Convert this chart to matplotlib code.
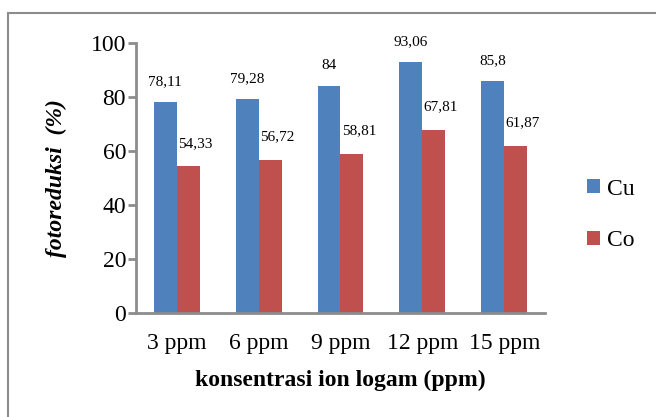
import numpy as np
import matplotlib
matplotlib.use('Agg')
import matplotlib.pyplot as plt
from matplotlib.patches import Rectangle

categories = ['3 ppm', '6 ppm', '9 ppm', '12 ppm', '15 ppm']
cu_values = [78.11, 79.28, 84, 93.06, 85.8]
co_values = [54.33, 56.72, 58.81, 67.81, 61.87]
cu_labels = ['78,11', '79,28', '84', '93,06', '85,8']
co_labels = ['54,33', '56,72', '58,81', '67,81', '61,87']

plt.rcParams['font.family'] = ['Liberation Serif', 'DejaVu Serif']

fig = plt.figure(figsize=(6.56, 4.17), dpi=100)
ax = fig.add_axes([0.207, 0.249, 0.624, 0.648])

# outer chart border
fig.patches.append(Rectangle((8 / 656, -0.1), 1.1, 1 - 13 / 417 + 0.1,
                             transform=fig.transFigure, fill=False,
                             edgecolor='#8c8c8c', linewidth=1.5))

x = np.arange(len(categories))
w = 0.28
ax.bar(x - w / 2, cu_values, w, color='#4F81BD', label='Cu')
ax.bar(x + w / 2, co_values, w, color='#C0504D', label='Co')

for i in range(len(categories)):
    ax.annotate(cu_labels[i], (x[i] - w / 2, cu_values[i]), xytext=(0, 10),
                textcoords='offset points', ha='center', va='bottom', fontsize=11)
    ax.annotate(co_labels[i], (x[i] + w / 2, co_values[i]), xytext=(5, 12),
                textcoords='offset points', ha='center', va='bottom', fontsize=11)

ax.set_xlim(-0.5, 4.5)
ax.set_ylim(0, 100)
ax.set_yticks([0, 20, 40, 60, 80, 100])
ax.set_xticks(x)
ax.set_xticklabels(categories)
ax.tick_params(axis='x', length=0, labelsize=17, pad=14)
ax.tick_params(axis='y', length=6, width=2, color='#8c8c8c', labelsize=17, pad=1)
for s in ['top', 'right']:
    ax.spines[s].set_visible(False)
for s in ['left', 'bottom']:
    ax.spines[s].set_color('#8c8c8c')
    ax.spines[s].set_linewidth(2)

ax.set_xlabel('konsentrasi ion logam (ppm)', fontsize=17, fontweight='bold', labelpad=12)
ax.set_ylabel('fotoreduksi  (%)', fontsize=17, fontweight='bold', style='italic', labelpad=17)

ax.legend(loc='center left', bbox_to_anchor=(1.05, 0.363), frameon=False,
          fontsize=17, handlelength=0.55, handleheight=0.55, handletextpad=0.3,
          labelspacing=1.3)

fig.savefig('out.png', dpi=100)
